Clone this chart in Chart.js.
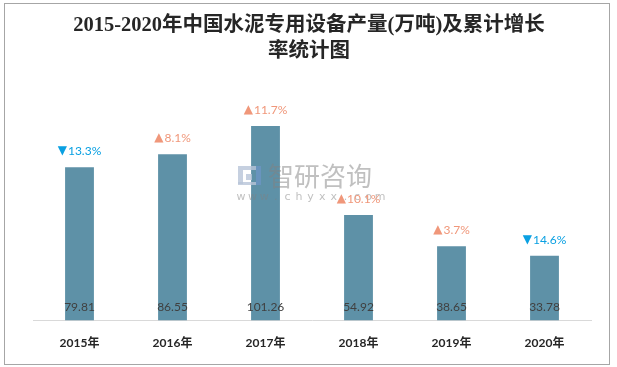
<!DOCTYPE html>
<html>
<head>
<meta charset="utf-8">
<script src="https://cdn.jsdelivr.net/npm/chart.js@4.4.0/dist/chart.umd.min.js"></script>
<style>
  html, body { margin: 0; padding: 0; background: #fff; }
  #wrap { width: 617px; height: 367px; position: relative; }
</style>
</head>
<body>
<div id="wrap"><canvas id="chart" width="617" height="367"></canvas></div>
<script>
// Chart data
const years = ["2015年", "2016年", "2017年", "2018年", "2019年", "2020年"];
const output = [79.81, 86.55, 101.26, 54.92, 38.65, 33.78]; // 万吨
const growth = [-13.3, 8.1, 11.7, 10.1, 3.7, -14.6]; // 累计增长 %

const titleLines = ["2015-2020年中国水泥专用设备产量(万吨)及累计增长", "率统计图"];

// colors
const barColor = "#5e91a7";
const upColor = "#f0977a";
const downColor = "#0aa0e2";

// frame, title, watermark and labels
const decorPlugin = {
  id: "decor",
  beforeDraw(chart) {
    const ctx = chart.ctx;
    ctx.save();
    ctx.fillStyle = "#fff";
    ctx.fillRect(0, 0, chart.width, chart.height);
    ctx.strokeStyle = "#a6a6a6";
    ctx.lineWidth = 1;
    ctx.strokeRect(4.5, 3.5, 605, 361);

    ctx.fillStyle = "#262626";
    ctx.font = "bold 20.5px 'Liberation Serif', 'Noto Sans CJK SC'";
    ctx.textAlign = "center";
    ctx.textBaseline = "middle";
    ctx.fillText(titleLines[0], 309, 26);
    ctx.fillText(titleLines[1], 309, 52);
    ctx.restore();
  },
  afterDatasetsDraw(chart) {
    const ctx = chart.ctx;
    const meta = chart.getDatasetMeta(0);
    const area = chart.chartArea;
    ctx.save();

    // watermark
    ctx.fillStyle = "rgba(184, 196, 216, 0.8)";
    ctx.fillRect(238, 166, 18, 4);
    ctx.fillRect(238, 170, 5, 14);
    ctx.fillRect(246, 174, 6, 6);
    ctx.fillRect(238, 182, 18, 3);
    ctx.fillStyle = "rgba(110, 150, 200, 0.7)";
    ctx.fillRect(256, 166, 5, 19);
    ctx.fillStyle = "rgba(130, 130, 130, 0.5)";
    ctx.font = "26px 'Noto Sans CJK SC'";
    ctx.textAlign = "left";
    ctx.textBaseline = "middle";
    ctx.fillText("智研咨询", 268, 176);
    ctx.font = "11px 'DejaVu Sans'";
    ctx.textAlign = "center";
    const site = "www.chyxx.com";
    for (let i = 0; i < site.length; i++) {
      ctx.fillText(site[i], 241 + i * 11.6, 197);
    }

    // value labels at bottom of bars
    ctx.font = "12px Lato, 'Liberation Sans'";
    ctx.fillStyle = "#404040";
    ctx.textAlign = "center";
    meta.data.forEach((bar, i) => {
      ctx.fillText(output[i].toFixed(2), bar.x, area.bottom - 13);
    });

    // growth labels above bars: triangle + percent
    ctx.textAlign = "left";
    meta.data.forEach((bar, i) => {
      const g = growth[i];
      ctx.fillStyle = g < 0 ? downColor : upColor;
      const tri = g < 0 ? "▼" : "▲";
      const num = Math.abs(g).toFixed(1) + "%";
      ctx.font = "12px 'DejaVu Sans'";
      const tw = ctx.measureText(tri).width;
      ctx.font = "12px Lato, 'Liberation Sans'";
      const nw = ctx.measureText(num).width;
      const x0 = bar.x - (tw + 1 + nw) / 2;
      const y = bar.y - 16;
      ctx.font = "12px 'DejaVu Sans'";
      ctx.fillText(tri, x0, y);
      ctx.font = "12px Lato, 'Liberation Sans'";
      ctx.fillText(num, x0 + tw + 1, y);
    });
    ctx.restore();
  },
};

new Chart(document.getElementById("chart"), {
  type: "bar",
  data: {
    labels: years,
    datasets: [
      {
        label: "产量",
        data: output,
        backgroundColor: barColor,
        borderWidth: 0,
        barPercentage: 0.31,
        categoryPercentage: 1,
      },
    ],
  },
  options: {
    responsive: false,
    animation: false,
    devicePixelRatio: 1,
    layout: {
      padding: { left: 33, right: 26, top: 90, bottom: 2 },
    },
    plugins: {
      legend: { display: false },
      title: { display: false },
      tooltip: { enabled: false },
    },
    scales: {
      y: {
        display: false,
        min: 0,
        max: 120,
      },
      x: {
        grid: { display: false, drawTicks: false },
        border: { display: true, color: "#d9d9d9", width: 1 },
        ticks: {
          padding: 15,
          color: "#262626",
          font: { family: "Lato, 'Noto Sans CJK SC'", size: 12, weight: "bold" },
        },
      },
    },
  },
  plugins: [decorPlugin],
});
</script>
</body>
</html>
